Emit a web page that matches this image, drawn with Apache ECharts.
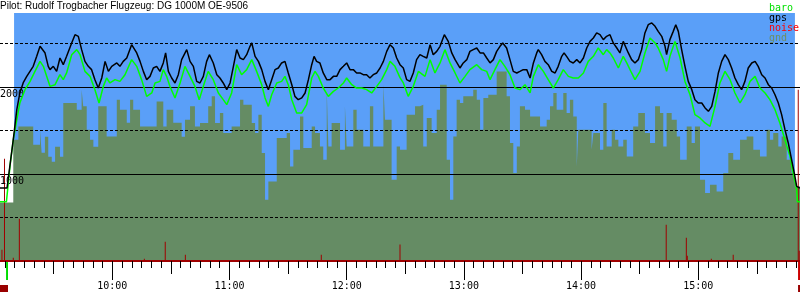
<!DOCTYPE html>
<html><head><meta charset="utf-8">
<script src="https://cdn.jsdelivr.net/npm/echarts@6/dist/echarts.min.js"></script>
<style>html,body{margin:0;padding:0;background:#fff}#c{width:800px;height:300px}</style>
</head><body><div id="c"></div>
<script>
// ---- text ----
const titleText = 'Pilot: Rudolf Trogbacher Flugzeug: DG 1000M OE-9506';
const legendNames = ['baro', 'gps', 'noise', 'gnd'];
// ---- axes (time in minutes since midnight, altitude in m) ----
const timeRange = [542.5, 952.1];
const altRange = [0, 2850];
const altLabels = [1000, 2000];
const hourTicks = [600, 660, 720, 780, 840, 900];
const halfHourTicks = [570, 630, 690, 750, 810, 870, 930];
const fiveMinTicks = [];
for (let m = 545; m <= 950; m += 5) fiveMinTicks.push(m);
const flightSpan = [[549.7, 949.5]];
// ---- series ----
const gps = [[542.5,839],[546.1,839],[546.7,857],[549.3,1394],[551.1,1739],[552.7,1934],[554.4,2049],[556.2,2122],[559.5,2237],[561.3,2352],[563.0,2467],[565.5,2394],[567.2,2237],[568.1,2199],[569.8,2237],[571.5,2179],[573.2,2333],[574.9,2256],[576.6,2352],[579.2,2506],[580.9,2601],[582.6,2582],[584.3,2429],[586.0,2294],[587.7,2237],[589.4,2199],[591.1,2084],[592.8,1988],[594.6,2103],[596.3,2294],[598.0,2179],[599.7,2237],[602.3,2276],[603.9,2237],[605.6,2294],[607.4,2333],[609.9,2486],[612.5,2391],[614.2,2294],[615.9,2179],[617.6,2084],[619.3,2122],[621.0,2218],[622.7,2237],[624.4,2179],[626.1,2276],[627.3,2391],[628.7,2179],[630.4,2103],[632.1,2046],[633.8,2141],[635.5,2314],[638.1,2429],[639.8,2294],[641.5,2237],[643.2,2064],[644.9,2046],[646.6,2122],[648.3,2294],[649.7,2371],[651.7,2276],[653.5,2141],[655.1,2103],[656.8,2046],[658.6,1969],[660.3,2046],[662.0,2237],[663.7,2429],[665.4,2333],[667.1,2314],[668.8,2371],[670.5,2467],[671.4,2506],[673.1,2352],[674.8,2294],[676.5,2199],[678.2,2064],[679.9,1969],[681.6,2084],[683.3,2199],[685.0,2218],[686.7,2276],[688.4,2294],[690.1,2161],[691.9,2026],[693.5,1892],[695.2,1854],[697.0,1874],[698.7,1931],[700.4,2084],[702.1,2256],[703.3,2352],[704.6,2294],[706.3,2276],[708.0,2161],[709.8,2084],[711.5,2084],[713.2,2122],[714.9,2122],[716.6,2199],[718.3,2237],[720.0,2276],[721.7,2199],[723.4,2199],[725.1,2161],[726.8,2161],[728.5,2141],[730.2,2141],[731.9,2103],[733.6,2141],[735.4,2161],[737.1,2218],[738.8,2294],[740.5,2409],[742.2,2486],[743.9,2448],[745.6,2333],[747.3,2256],[749.0,2218],[750.7,2084],[752.4,2064],[754.1,2161],[755.8,2314],[757.5,2371],[759.2,2352],[761.0,2333],[762.7,2486],[764.3,2371],[766.1,2409],[767.8,2467],[770.0,2601],[772.0,2524],[773.8,2391],[775.5,2314],[778.0,2218],[779.7,2276],[781.5,2314],[783.1,2409],[784.8,2429],[786.6,2448],[788.3,2391],[790.0,2391],[791.7,2333],[793.4,2276],[795.1,2314],[796.8,2409],[798.5,2467],[799.9,2506],[801.9,2448],[803.6,2314],[805.3,2179],[807.1,2161],[808.7,2179],[810.4,2199],[812.2,2199],[813.9,2103],[815.6,2276],[817.3,2391],[818.1,2429],[819.8,2371],[821.5,2294],[823.2,2256],[825.0,2179],[826.7,2161],[828.3,2237],[830.1,2352],[831.3,2391],[832.6,2352],[834.3,2294],[836.0,2276],[837.8,2314],[839.5,2276],[841.2,2333],[842.9,2448],[844.6,2524],[846.3,2563],[848.0,2621],[849.7,2601],[851.4,2544],[853.1,2582],[854.8,2601],[856.5,2506],[858.3,2448],[859.9,2391],[861.6,2524],[862.5,2544],[864.2,2391],[865.9,2314],[867.6,2276],[869.3,2314],[871.0,2429],[872.7,2621],[874.4,2716],[876.2,2736],[877.9,2697],[879.5,2639],[881.3,2582],[883.0,2467],[883.8,2371],[885.5,2544],[887.2,2639],[888.5,2716],[889.8,2639],[891.5,2429],[893.2,2237],[894.9,2064],[896.7,1969],[898.3,1854],[900.0,1816],[901.8,1816],[903.5,1759],[905.2,1720],[906.9,1777],[908.6,1949],[910.3,2161],[912.0,2294],[913.7,2371],[915.4,2314],[917.1,2218],[918.8,2103],[920.5,2026],[922.2,1969],[923.9,2064],[925.6,2218],[927.4,2276],[929.1,2294],[930.7,2237],[932.5,2141],[934.2,2103],[935.9,2026],[937.6,1988],[939.3,1911],[941.0,1816],[942.7,1682],[944.4,1509],[946.1,1356],[947.8,1164],[949.5,972],[950.4,857],[952.1,839]];
const baro = [[542.5,682],[545.8,682],[545.9,705],[547.6,1087],[549.3,1394],[551.1,1624],[552.7,1820],[555.3,1969],[557.9,2064],[560.4,2179],[563.0,2294],[564.7,2237],[566.4,2122],[568.1,2007],[570.7,2026],[573.2,2141],[574.9,2084],[576.6,2161],[579.2,2371],[581.8,2429],[583.5,2371],[586.0,2179],[588.6,2122],[591.1,1969],[593.2,1816],[595.4,2007],[597.1,2103],[598.8,2046],[601.4,2084],[603.9,2064],[606.5,2141],[609.9,2314],[612.5,2237],[615.0,2084],[617.6,1892],[620.2,1931],[621.9,2046],[624.4,2064],[626.1,2199],[627.8,2122],[629.5,2007],[632.1,1874],[634.7,2046],[637.2,2237],[639.8,2122],[642.3,2007],[644.5,1854],[646.6,2007],[649.1,2179],[651.7,2084],[654.3,1931],[656.8,1854],[658.6,1797],[661.1,1931],[663.7,2256],[666.2,2141],[668.8,2199],[671.4,2314],[673.9,2179],[676.5,2026],[678.2,1874],[679.9,1777],[681.6,1911],[684.2,2046],[686.7,2064],[688.4,2122],[690.1,2026],[691.9,1854],[694.4,1701],[697.0,1701],[699.5,1797],[702.1,2103],[703.8,2179],[705.5,2122],[708.0,1988],[710.6,1892],[713.2,1949],[715.7,1988],[718.3,2046],[720.0,2103],[722.6,2026],[725.1,1988],[727.7,1988],[730.2,1969],[732.8,1931],[735.4,2007],[737.9,2084],[740.5,2199],[742.2,2294],[744.7,2237],[747.3,2107],[749.0,2046],[751.5,1892],[754.1,2007],[756.7,2179],[760.1,2122],[762.7,2314],[765.2,2161],[767.8,2276],[770.3,2429],[772.9,2276],[775.5,2161],[778.0,2046],[780.6,2122],[783.1,2199],[786.6,2256],[789.1,2199],[791.7,2179],[793.4,2084],[795.9,2199],[798.5,2314],[801.0,2237],[803.6,2141],[806.2,1988],[808.7,1969],[811.3,2026],[813.9,1931],[815.6,2122],[818.1,2256],[820.7,2179],[823.2,2084],[825.8,1988],[828.3,2084],[830.9,2199],[833.5,2122],[836.0,2103],[838.6,2103],[841.2,2161],[843.7,2294],[846.3,2352],[848.8,2448],[849.7,2429],[851.4,2371],[853.1,2429],[854.8,2391],[856.5,2333],[859.1,2218],[861.6,2352],[863.4,2276],[865.9,2161],[867.6,2084],[870.2,2179],[872.7,2391],[875.3,2563],[877.9,2506],[879.5,2448],[882.1,2314],[883.8,2179],[885.5,2352],[888.1,2524],[890.7,2333],[893.2,2064],[895.8,1911],[898.3,1682],[900.9,1644],[903.5,1586],[906.0,1547],[908.6,1777],[911.1,2046],[913.7,2179],[916.3,2084],[918.8,1931],[921.4,1816],[923.9,1911],[926.5,2064],[929.1,2122],[931.6,1988],[934.2,1931],[936.7,1854],[939.3,1739],[941.8,1586],[944.4,1394],[947.0,1202],[948.6,1011],[950.4,820],[950.8,682],[952.1,682]];
const gnd = [[542.5,672],[549.3,1394],[551.9,1547],[559.5,1337],[563.0,1509],[563.8,1245],[565.5,1428],[567.2,1199],[569.0,1141],[570.7,1314],[573.2,1199],[574.9,1816],[581.8,1739],[584.3,1969],[585.1,1777],[586.9,1509],[588.6,1394],[590.3,1314],[592.8,1777],[597.1,1432],[602.3,1854],[603.9,1739],[607.4,1590],[609.1,1854],[610.7,1739],[614.2,1547],[622.7,1834],[626.1,1547],[627.8,1739],[631.2,1590],[635.5,1428],[637.2,1624],[639.8,1777],[642.3,1547],[644.9,1586],[649.1,1777],[650.9,1892],[652.6,1586],[655.1,1701],[656.8,1471],[661.1,1547],[665.4,1854],[667.1,1797],[671.4,1586],[673.1,1471],[674.8,1682],[676.5,1241],[678.2,705],[679.9,915],[684.2,1414],[689.3,1471],[691.0,1087],[692.7,1279],[696.1,1662],[697.8,1299],[702.1,1547],[703.8,1471],[706.3,1317],[708.0,1164],[709.8,1969],[710.6,1317],[712.3,1586],[716.6,1279],[719.1,1777],[720.0,1317],[723.4,1739],[725.1,1509],[728.5,1317],[731.9,1777],[733.6,1317],[738.8,2026],[739.6,1624],[743.0,934],[745.6,1317],[747.3,1279],[750.7,1682],[755.0,1777],[757.5,1797],[759.2,1317],[761.0,1644],[763.5,1471],[766.1,1739],[767.8,2026],[771.2,1164],[772.9,705],[774.6,1432],[776.3,1854],[778.0,1816],[779.7,1892],[784.8,1969],[786.6,1854],[788.3,1509],[790.0,1874],[792.5,1911],[796.8,2179],[801.9,1892],[803.6,1356],[805.3,1011],[807.1,1317],[808.7,1777],[811.3,1739],[813.9,1662],[819.0,1547],[822.4,1624],[824.1,1777],[825.8,1931],[827.5,1739],[830.9,1931],[832.6,1701],[834.3,1854],[836.0,1662],[837.8,1087],[838.6,1509],[845.4,1279],[846.3,1471],[849.7,1279],[851.4,1816],[853.1,1317],[855.7,1509],[857.4,1394],[859.1,1317],[861.6,1394],[863.4,1202],[866.7,1547],[869.3,1701],[872.7,1471],[875.3,1356],[877.9,1777],[880.4,1701],[882.1,1317],[883.8,1701],[886.4,1624],[889.0,1432],[890.7,1164],[894.1,1547],[896.6,1356],[898.3,1547],[900.9,934],[903.5,782],[906.0,877],[909.4,800],[912.8,1011],[915.4,1241],[917.9,1164],[921.4,1394],[924.8,1432],[928.2,1279],[931.6,1202],[935.0,1509],[936.7,1394],[938.4,1471],[941.0,1317],[942.7,1432],[945.3,1164],[947.8,1011],[949.5,857],[952.1,857]];
const noise = [[543.5,130],[544.8,1176],[549.3,38],[552.4,486],[616.4,26],[627.1,222],[637.4,72],[707.0,72],[747.3,190],[883.6,417],[893.9,268],[894.4,61],[906.7,26],[917.9,72],[951.2,1969],[951.7,118]];
// event markers below the axis: [start, end, rowTop, rowBottom]
const markers = [[545.6,546.6,0,18],[542.5,546.6,23,30],[951.1,952.1,0,18],[951.1,952.1,23,30]];
const markerColors = ['#00dd00','#990000','#cc0000','#990000'];

const C = { sky:'#5a9ff8', gnd:'#658c64', baro:'#00ff00', gps:'#000000', noise:'#a00000', noiseLegend:'#ff0000', gndLegend:'#6e8f64' };
const mono = 'DejaVu Sans Mono';
const fmtTime = v => { const h = Math.floor(v/60), m = Math.round(v - h*60); return h + ':' + (m < 10 ? '0' : '') + m; };

const chart = echarts.init(document.getElementById('c'), null, {renderer:'canvas'});
chart.setOption({
  animation: false,
  backgroundColor: '#ffffff',
  title: { text: titleText, left: 0, top: 1, padding: 0,
    textStyle: { fontFamily: 'Liberation Sans', fontSize: 10, fontWeight: 'normal', color: '#000' } },
  legend: { left: 764, top: 3, orient: 'vertical', padding: 0, itemWidth: 0, itemHeight: 10, itemGap: 0,
    icon: 'none', selectedMode: false,
    textStyle: { fontFamily: mono, fontSize: 10, lineHeight: 10 },
    data: [
      { name: legendNames[0], textStyle: { color: '#00e000' } },
      { name: legendNames[1], textStyle: { color: '#000' } },
      { name: legendNames[2], textStyle: { color: C.noiseLegend } },
      { name: legendNames[3], textStyle: { color: C.gndLegend } }
    ] },
  grid: [
    { left: 0, right: 0, top: 13, bottom: 39, containLabel: false, outerBoundsMode: 'none' },
    { left: 0, right: 0, top: 262, height: 30, containLabel: false, outerBoundsMode: 'none' }
  ],
  xAxis: [
    { gridIndex: 0, type: 'value', min: timeRange[0], max: timeRange[1], position: 'bottom', z: 5,
      axisLine: { show: true, lineStyle: { color: '#a00000', width: 2 } },
      axisTick: { show: true, customValues: fiveMinTicks, length: 7, lineStyle: { color: '#000', width: 1 } },
      axisLabel: { show: false }, splitLine: { show: false } },
    { gridIndex: 0, type: 'value', min: timeRange[0], max: timeRange[1], position: 'bottom', offset: 0, z: 5,
      axisLine: { show: false },
      axisTick: { show: true, customValues: halfHourTicks, length: 13, lineStyle: { color: '#000', width: 1 } },
      axisLabel: { show: false }, splitLine: { show: false } },
    { gridIndex: 0, type: 'value', min: timeRange[0], max: timeRange[1], position: 'bottom', offset: 0, z: 5,
      axisLine: { show: false },
      axisTick: { show: true, customValues: hourTicks, length: 19, lineStyle: { color: '#000', width: 1 } },
      axisLabel: { show: true, customValues: hourTicks, formatter: fmtTime, margin: 20,
        fontFamily: mono, fontSize: 10, color: '#000' },
      splitLine: { show: false } },
    { gridIndex: 1, type: 'value', min: timeRange[0], max: timeRange[1], show: false }
  ],
  yAxis: [
    { gridIndex: 0, type: 'value', min: altRange[0], max: altRange[1], interval: 1000, position: 'left', z: 3,
      axisLine: { show: false }, axisTick: { show: false },
      splitLine: { show: true, showMinLine: false, showMaxLine: false, lineStyle: { color: '#000', width: 1 } },
      axisLabel: { show: true, inside: true, margin: 0, verticalAlign: 'top', padding: [2, 0, 0, 0],
        fontFamily: mono, fontSize: 10, color: '#000',
        formatter: v => altLabels.indexOf(v) >= 0 ? String(v) : '' } },
    { gridIndex: 0, type: 'value', min: altRange[0], max: altRange[1], interval: 500, position: 'left', z: 3,
      axisLine: { show: false }, axisTick: { show: false }, axisLabel: { show: false },
      splitLine: { show: true, showMinLine: false, showMaxLine: false,
        lineStyle: { color: '#000', width: 1, type: [3, 2] } } },
    { gridIndex: 1, type: 'value', min: 0, max: 30, inverse: true, show: false }
  ],
  series: [
    { type: 'custom', name: 'sky', xAxisIndex: 0, yAxisIndex: 0, z: 1, silent: true, clip: true,
      data: flightSpan, encode: { x: [0, 1] },
      renderItem: (params, api) => {
        const p0 = api.coord([api.value(0), altRange[1]]);
        const p1 = api.coord([api.value(1), altRange[0]]);
        return { type: 'rect', shape: { x: p0[0], y: p0[1], width: p1[0] - p0[0], height: p1[1] - p0[1] },
          style: { fill: C.sky } };
      } },
    { type: 'line', name: 'gnd', xAxisIndex: 0, yAxisIndex: 0, z: 2, data: gnd, step: 'end',
      symbol: 'none', showSymbol: false, lineStyle: { width: 0, color: C.gnd },
      itemStyle: { color: C.gnd }, areaStyle: { color: C.gnd, opacity: 1 } },
    { type: 'bar', name: 'noise', xAxisIndex: 0, yAxisIndex: 0, z: 3, data: noise, barWidth: 1,
      itemStyle: { color: C.noise } },
    { type: 'line', name: 'baro', xAxisIndex: 0, yAxisIndex: 0, z: 4, data: baro,
      symbol: 'none', showSymbol: false, lineStyle: { width: 1.5, color: C.baro }, itemStyle: { color: C.baro } },
    { type: 'line', name: 'gps', xAxisIndex: 0, yAxisIndex: 0, z: 4, data: gps,
      symbol: 'none', showSymbol: false, lineStyle: { width: 1.5, color: C.gps }, itemStyle: { color: C.gps } },
    { type: 'custom', name: 'events', xAxisIndex: 3, yAxisIndex: 2, z: 4, silent: true,
      data: markers, encode: { x: [0, 1], y: [2, 3] },
      renderItem: (params, api) => {
        const p0 = api.coord([api.value(0), api.value(2)]);
        const p1 = api.coord([api.value(1), api.value(3)]);
        return { type: 'rect', shape: { x: p0[0], y: p0[1], width: Math.max(1, p1[0] - p0[0]), height: p1[1] - p0[1] },
          style: { fill: markerColors[params.dataIndex] } };
      } }
  ]
});
</script>
</body></html>
